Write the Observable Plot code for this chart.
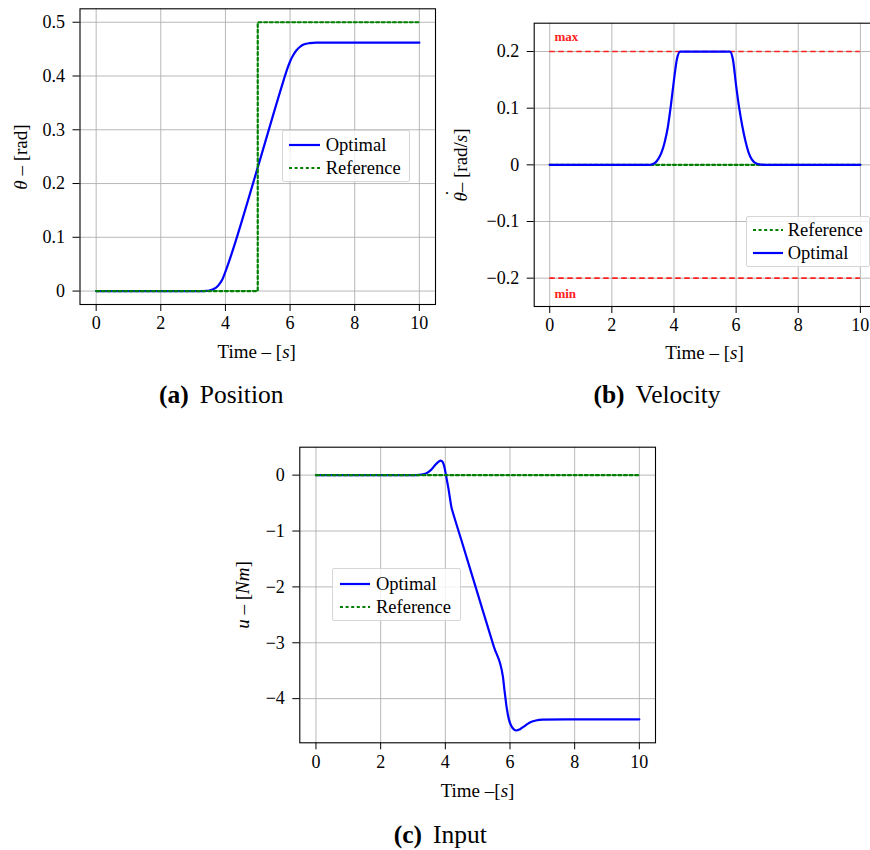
<!DOCTYPE html>
<html>
<head>
<meta charset="utf-8">
<script src="https://cdn.jsdelivr.net/npm/d3@7"></script>
<script src="https://cdn.jsdelivr.net/npm/@observablehq/plot@0.6"></script>
<style>
html, body { margin: 0; padding: 0; background: #fff; overflow: hidden; }
#page { position: relative; width: 870px; height: 850px; overflow: hidden; font-family: "Liberation Serif", "Tinos", "Times New Roman", "DejaVu Serif", serif; color: #000; }
.panel { position: absolute; }
.lbl { position: absolute; font-size: 19px; white-space: nowrap; line-height: 1; }
.ylbl { transform: translate(-50%, -50%) rotate(-90deg); }
.xlbl { transform: translate(-50%, -50%); }
.cap { position: absolute; font-size: 25.5px; line-height: 1; white-space: nowrap; transform: translate(-50%, -50%); }
.cap b { margin-right: 11px; }
.legend { position: absolute; box-sizing: border-box; border: 1px solid #d6d6d6; background: rgba(255,255,255,0.8); border-radius: 2px; font-size: 18.5px; line-height: 1; }
.legend .row { position: absolute; white-space: nowrap; }
.legend svg { position: absolute; overflow: visible; }
.dotacc { position: relative; display: inline-block; }
.dotacc .acc { position: absolute; left: 0.28em; top: -0.42em; font-style: normal; }
</style>
</head>
<body>
<div id="page"></div>
<script>
// ---------- data ----------
const xTicks = [0, 2, 4, 6, 8, 10];
const posTicks = [0, 0.1, 0.2, 0.3, 0.4, 0.5];
const velTicks = [-0.2, -0.1, 0, 0.1, 0.2];
const inTicks = [-4, -3, -2, -1, 0];

// (a) position
const posT   = [0, 3.3, 3.4, 3.5, 3.6, 3.7, 3.8, 3.9, 4.0, 4.1, 4.2, 5.0, 5.8, 5.9, 6.0, 6.1, 6.2, 6.3, 6.4, 6.5, 6.6, 6.8, 7.0, 10];
const posOpt = [0, 0, 0.0003, 0.001, 0.003, 0.006, 0.012, 0.021, 0.036, 0.053, 0.071, 0.230, 0.392, 0.411, 0.427, 0.439, 0.448, 0.454, 0.458, 0.460, 0.461, 0.462, 0.462, 0.462];
const posRefT = [0, 5, 10];
const posRef  = [0, 0.5, 0.5];

// (b) velocity
const velT   = [0, 3.2, 3.3, 3.4, 3.5, 3.6, 3.7, 3.8, 3.9, 4.0, 4.1, 4.2, 5.8, 5.9, 6.0, 6.1, 6.2, 6.3, 6.4, 6.5, 6.6, 6.8, 7.0, 10];
const velOpt = [0, 0, 0.001, 0.004, 0.011, 0.022, 0.040, 0.066, 0.105, 0.150, 0.188, 0.200, 0.200, 0.185, 0.140, 0.100, 0.068, 0.042, 0.022, 0.010, 0.004, 0.0005, 0, 0];
const velRefT = [0, 10];
const velRef  = [0, 0];
const limitT   = [0, 10];
const velMax   = 0.2;
const velMin   = -0.2;
const limitLabels = ["max", "min"];
const limitLabelT = [0.15, 0.15];
const limitLabelY = [0.226, -0.228];

// (c) input
const inT   = [0, 3.0, 3.2, 3.4, 3.55, 3.7, 3.8, 3.86, 3.92, 3.97, 4.02, 4.1, 4.2, 4.23, 4.5, 5.0, 5.5, 5.78, 5.83, 5.9, 5.97, 6.05, 6.12, 6.2, 6.3, 6.45, 6.6, 6.8, 7.0, 8.0, 10];
const inOpt = [0, 0, 0.006, 0.03, 0.09, 0.19, 0.245, 0.26, 0.235, 0.15, 0.0, -0.25, -0.60, -0.66, -1.17, -2.12, -3.07, -3.60, -3.85, -4.17, -4.38, -4.50, -4.55, -4.57, -4.55, -4.49, -4.43, -4.39, -4.375, -4.37, -4.37];
const inRefT = [0, 10];
const inRef  = [0, 0];

// ---------- helpers ----------
const FONT = "'Liberation Serif', 'Tinos', 'Times New Roman', 'DejaVu Serif', serif";
const BLUE = "#0000ff", GREEN = "#008000", RED = "#ff2020", GRID = "#b0b0b0";
const DOT = "3,2.6";
const DASH = "5.5,3.5";
function fmt(d) {
  if (d === 0) return "0";
  const a = Math.abs(d);
  const s = Number.isInteger(a) ? String(a) : a.toFixed(1);
  return (d < 0 ? "\u2212" : "") + s;
}
const rows = (t, v) => t.map((x, i) => ({t: x, v: v[i]}));
const page = document.getElementById("page");

function place(el, left, top, w, h) {
  const div = document.createElement("div");
  div.className = "panel";
  Object.assign(div.style, {left: left + "px", top: top + "px", width: w + "px", height: h + "px"});
  el.style.maxWidth = "none";
  div.appendChild(el);
  page.appendChild(div);
}
function baseMarks(yTicks) {
  return [
    Plot.gridX(xTicks, {stroke: GRID, strokeOpacity: 1, strokeWidth: 0.9}),
    Plot.gridY(yTicks, {stroke: GRID, strokeOpacity: 1, strokeWidth: 0.9})
  ];
}
function axisMarks(yTicks) {
  return [
    Plot.frame({stroke: "black", strokeWidth: 1.1}),
    Plot.axisX({ticks: xTicks, tickFormat: fmt, tickSize: 7, tickPadding: 5, fontSize: 18, label: null, strokeWidth: 1}),
    Plot.axisY({ticks: yTicks, tickFormat: fmt, tickSize: 7, tickPadding: 8, fontSize: 18, label: null, strokeWidth: 1})
  ];
}
const style = {fontFamily: FONT, fontSize: "18px", background: "transparent", color: "black", overflow: "visible", maxWidth: "none"};

function label(html, x, y, cls) {
  const d = document.createElement("div");
  d.className = "lbl " + cls;
  d.style.left = x + "px";
  d.style.top = y + "px";
  d.innerHTML = html;
  page.appendChild(d);
}
function caption(html, x, y) {
  const d = document.createElement("div");
  d.className = "cap";
  d.style.left = x + "px";
  d.style.top = y + "px";
  d.innerHTML = html;
  page.appendChild(d);
}
function legend(left, top, width, height, items, rowOffsets, sampleX, sampleW, textX) {
  const box = document.createElement("div");
  box.className = "legend";
  Object.assign(box.style, {left: left + "px", top: top + "px", width: width + "px", height: height + "px"});
  items.forEach((it, i) => {
    const ns = "http://www.w3.org/2000/svg";
    const svg = document.createElementNS(ns, "svg");
    svg.setAttribute("width", sampleW);
    svg.setAttribute("height", 4);
    svg.style.left = sampleX + "px";
    svg.style.top = (rowOffsets[i] - 2) + "px";
    const ln = document.createElementNS(ns, "line");
    ln.setAttribute("x1", 0); ln.setAttribute("x2", sampleW);
    ln.setAttribute("y1", 2); ln.setAttribute("y2", 2);
    ln.setAttribute("stroke", it.color);
    ln.setAttribute("stroke-width", 2.2);
    if (it.dash) ln.setAttribute("stroke-dasharray", it.dash);
    svg.appendChild(ln);
    box.appendChild(svg);
    const r = document.createElement("div");
    r.className = "row";
    r.style.left = textX + "px";
    r.style.top = (rowOffsets[i] - 9) + "px";
    r.textContent = it.label;
    box.appendChild(r);
  });
  page.appendChild(box);
}

// ---------- (a) Position ----------
const plotA = Plot.plot({
  width: 440, height: 340,
  marginLeft: 79.5, marginRight: 5, marginTop: 8.3, marginBottom: 36,
  style,
  x: {domain: [-0.5, 10.5]},
  y: {domain: [-0.025, 0.525]},
  marks: [
    ...baseMarks(posTicks),
    Plot.line(rows(posT, posOpt), {x: "t", y: "v", stroke: BLUE, strokeWidth: 2.2, curve: "monotone-x"}),
    Plot.line(rows(posRefT, posRef), {x: "t", y: "v", stroke: GREEN, strokeWidth: 2.2, strokeDasharray: DOT, curve: "step-after"}),
    ...axisMarks(posTicks)
  ]
});
place(plotA, 0, 0, 440, 340);

// ---------- (b) Velocity ----------
const plotB = Plot.plot({
  width: 440, height: 340,
  marginLeft: 93.7, marginRight: 4.6, marginTop: 22.7, marginBottom: 34,
  style,
  x: {domain: [-0.5, 10.5]},
  y: {domain: [-0.25, 0.25]},
  marks: [
    ...baseMarks(velTicks),
    Plot.ruleY([velMax, velMin], {x1: limitT[0], x2: limitT[1], stroke: RED, strokeWidth: 1.6, strokeDasharray: DASH}),
    Plot.text(limitLabels, {x: (d, i) => limitLabelT[i], y: (d, i) => limitLabelY[i], text: d => d, fill: RED, fontWeight: "bold", fontSize: 13, textAnchor: "start"}),
    Plot.line(rows(velRefT, velRef), {x: "t", y: "v", stroke: GREEN, strokeWidth: 2.2, strokeDasharray: DOT}),
    Plot.line(rows(velT, velOpt), {x: "t", y: "v", stroke: BLUE, strokeWidth: 2.2, curve: "monotone-x"}),
    ...axisMarks(velTicks)
  ]
});
place(plotB, 440, 0, 440, 340);

// ---------- (c) Input ----------
const plotC = Plot.plot({
  width: 450, height: 340,
  marginLeft: 79.3, marginRight: 15, marginTop: 16.7, marginBottom: 27.7,
  style,
  x: {domain: [-0.5, 10.5]},
  y: {domain: [-4.79, 0.5]},
  marks: [
    ...baseMarks(inTicks),
    Plot.line(rows(inT, inOpt), {x: "t", y: "v", stroke: BLUE, strokeWidth: 2.2, curve: "monotone-x"}),
    Plot.line(rows(inRefT, inRef), {x: "t", y: "v", stroke: GREEN, strokeWidth: 2.2, strokeDasharray: DOT}),
    ...axisMarks(inTicks)
  ]
});
place(plotC, 220, 430, 450, 340);

// ---------- axis titles ----------
label("<i>θ</i> – [rad]", 20, 156.5, "ylbl");
label("Time – [<i>s</i>]", 256.7, 351, "xlbl");
label("<i class='dotacc'>θ<span class='acc'>˙</span></i>– [rad/<i>s</i>]", 460, 164.5, "ylbl");
label("Time – [<i>s</i>]", 704.5, 352, "xlbl");
label("<i>u</i> – [<i>Nm</i>]", 242, 594.5, "ylbl");
label("Time –[<i>s</i>]", 477.5, 790, "xlbl");

// ---------- legends ----------
legend(281.7, 130, 128.3, 52.3,
  [{label: "Optimal", color: BLUE}, {label: "Reference", color: GREEN, dash: DOT}],
  [14.3, 37.3], 6, 31, 43);
legend(745.7, 216, 124.6, 50.7,
  [{label: "Reference", color: GREEN, dash: DOT}, {label: "Optimal", color: BLUE}],
  [13.3, 35.7], 6, 30, 41);
legend(332, 568.3, 128.7, 53,
  [{label: "Optimal", color: BLUE}, {label: "Reference", color: GREEN, dash: DOT}],
  [15, 37.4], 7, 30, 43);

// ---------- captions ----------
caption("<b>(a)</b>Position", 221.3, 395);
caption("<b>(b)</b>Velocity", 657, 395);
caption("<b>(c)</b>Input", 440.3, 835);
</script>
</body>
</html>
